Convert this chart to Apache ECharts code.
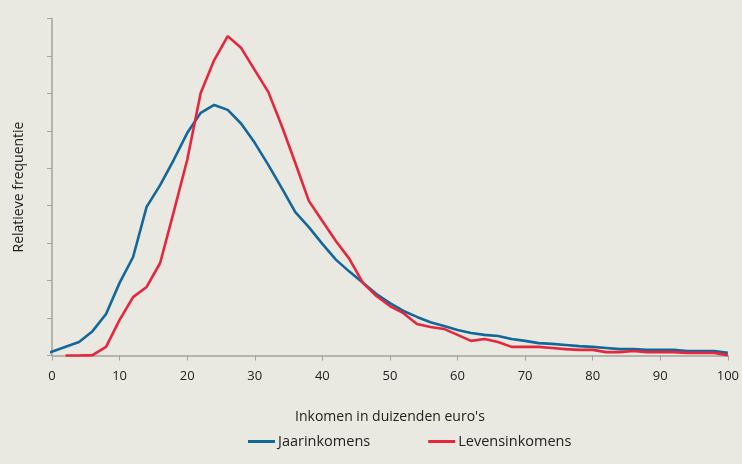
<!DOCTYPE html>
<html>
<head>
<meta charset="utf-8">
<title>Inkomensverdeling</title>
<script src="https://cdn.jsdelivr.net/npm/echarts@6/dist/echarts.min.js"></script>
<style>
	html, body {
		margin: 0;
		padding: 0;
		background: #e9e8e1;
	}
	#chart {
		width: 742px;
		height: 464px;
	}
</style>
</head>
<body>
<div id="chart"></div>
<script>
	// inkomen (duizenden euro's) en relatieve frequentie
	const jaarX = [-1, 4, 6, 8, 10, 12, 14, 16, 18, 20, 22, 24, 26, 28, 30, 32, 34, 36, 38, 40,
		42, 44, 46, 48, 50, 52, 54, 56, 58, 60, 62, 64, 66, 68, 70, 72, 74, 76, 78, 80,
		82, 84, 86, 88, 90, 92, 94, 96, 98, 100]
	const jaarinkomens = [0.4, 3.6, 6.5, 11.1, 19.4, 26.3, 39.7, 45.5, 52.2, 59.4, 64.8, 66.9, 65.6, 61.9, 56.8, 50.9, 44.7, 38.3, 34.3, 29.8,
		25.6, 22.4, 19.4, 16.4, 14.0, 11.9, 10.3, 8.9, 7.9, 6.8, 6.0, 5.5, 5.2, 4.4, 3.9, 3.3, 3.1, 2.8, 2.5, 2.3,
		2.0, 1.7, 1.7, 1.5, 1.5, 1.5, 1.2, 1.2, 1.2, 0.7]

	const levensX = [2, 4, 6, 8, 10, 12, 14, 16, 18, 20, 22, 24, 26, 28, 30, 32, 34, 36, 38, 40,
		42, 44, 46, 48, 50, 52, 54, 56, 58, 60, 62, 64, 66, 68, 70, 72, 74, 76, 78, 80,
		82, 84, 86, 88, 90, 92, 94, 96, 98, 100]
	const levensinkomens = [0, 0, 0.1, 2.3, 9.5, 15.6, 18.3, 24.7, 38.3, 52.2, 70.1, 78.9, 85.3, 82.1, 76.2, 70.4, 61.3, 51.4, 41.3, 35.9,
		30.6, 25.8, 19.4, 15.9, 13.2, 11.3, 8.4, 7.6, 7.1, 5.5, 3.9, 4.4, 3.6, 2.3, 2.3, 2.3, 2.0, 1.7, 1.5, 1.5,
		0.9, 0.9, 1.2, 0.9, 0.9, 0.9, 0.7, 0.7, 0.7, 0.1]

	const seriesNames = ['Jaarinkomens', 'Levensinkomens']
	const xTicks = [0, 10, 20, 30, 40, 50, 60, 70, 80, 90, 100]

	const chart = echarts.init(document.getElementById('chart'))
	const font = '"Open Sans", sans-serif'
	const axisGrey = '#a3a3a0'

	const option = {
		backgroundColor: '#e9e8e1',
		animation: false,
		textStyle: { fontFamily: font },
		grid: {
			left: 52,
			right: 14,
			top: 18.5,
			bottom: 108.5
		},
		legend: {
			data: seriesNames,
			left: 243,
			top: 429,
			icon: 'rect',
			itemWidth: 27,
			itemHeight: 3,
			itemGap: 58,
			textStyle: {
				fontFamily: font,
				fontSize: 14.5,
				color: '#222',
				padding: [0, 0, 0, -2]
			}
		},
		xAxis: {
			type: 'value',
			min: 0,
			max: 100,
			interval: 10,
			name: "Inkomen in duizenden euro's",
			nameLocation: 'middle',
			nameGap: 55,
			nameTextStyle: { fontSize: 14, color: '#222' },
			axisLine: { lineStyle: { color: axisGrey, width: 1.5 } },
			axisTick: { show: true, length: 5, lineStyle: { color: axisGrey } },
			axisLabel: {
				fontSize: 13,
				color: '#222',
				margin: 14,
				formatter: (v) => xTicks.indexOf(v) >= 0 ? String(v) : ''
			},
			splitLine: { show: false }
		},
		yAxis: {
			type: 'value',
			min: 0,
			max: 90,
			interval: 10,
			name: 'Relatieve frequentie',
			nameLocation: 'middle',
			nameGap: 26,
			nameTextStyle: { fontSize: 14, color: '#222' },
			axisLine: { show: true, lineStyle: { color: axisGrey, width: 1.5 } },
			axisTick: { show: true, length: 5, lineStyle: { color: axisGrey } },
			axisLabel: { show: false },
			splitLine: { show: false }
		},
		series: [
			{
				name: seriesNames[0],
				type: 'line',
				clip: false,
				showSymbol: false,
				symbol: 'none',
				color: '#12679b',
				lineStyle: { width: 2.6 },
				data: jaarX.map((x, i) => [x, jaarinkomens[i]])
			},
			{
				name: seriesNames[1],
				type: 'line',
				clip: false,
				showSymbol: false,
				symbol: 'none',
				color: '#e5263b',
				lineStyle: { width: 2.6 },
				data: levensX.map((x, i) => [x, levensinkomens[i]])
			}
		]
	}
	chart.setOption(option)
</script>
</body>
</html>
